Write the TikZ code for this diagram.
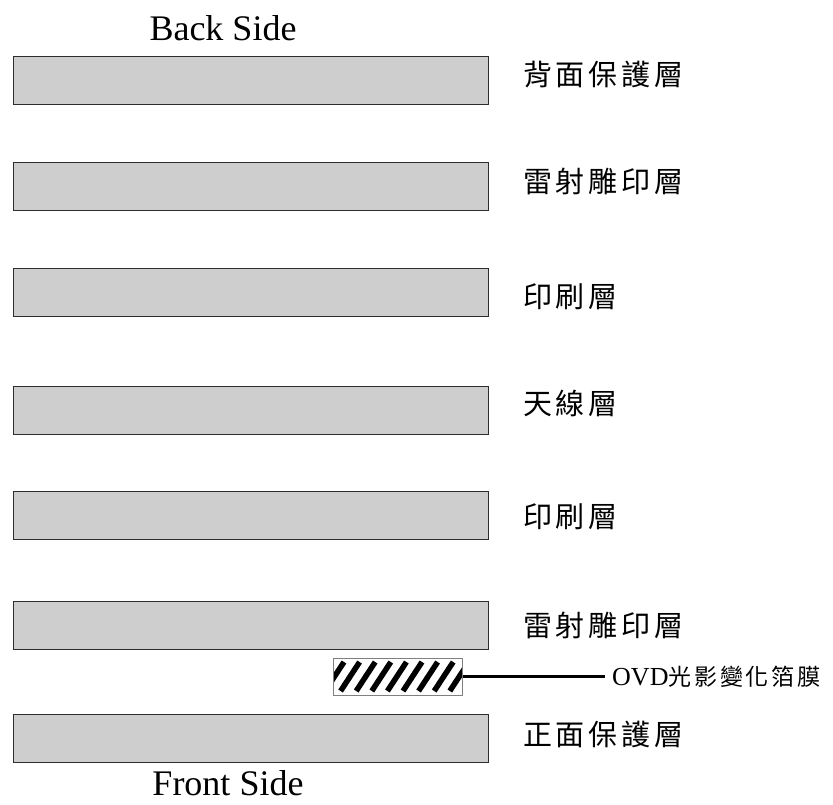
\documentclass[tikz,border=0pt]{standalone}
\usepackage{fontspec}
\setmainfont{Liberation Serif}
\newfontfamily\cjklab[LetterSpace=13]{Noto Sans CJK TC}
\newfontfamily\cjkovd[LetterSpace=12]{Noto Sans CJK TC}
\usetikzlibrary{calc}
\definecolor{layergray}{RGB}{207,206,207}
\definecolor{edgegray}{RGB}{45,45,45}
\begin{document}
\begin{tikzpicture}[x=1pt,y=-1pt,
  layer/.style={draw=edgegray, fill=layergray, line width=1.3pt, minimum width=475pt, minimum height=48pt, inner sep=0pt, anchor=north west},
  lab/.style={anchor=west, inner sep=0pt, font=\cjklab\fontsize{29}{34}\selectfont},
  side/.style={anchor=base, inner sep=0pt, font=\fontsize{36}{40}\selectfont},
  foil/.style={draw=gray, line width=1pt, minimum width=129pt, minimum height=37pt, inner sep=0pt,
    path picture={
      \foreach \k in {0,...,9} {
        \draw[draw=black, line width=5.5pt] ($(path picture bounding box.south west)+(\k*15.6-8,-4)$) -- ++(19,-29);
      }
    }},
  leader/.style={line width=3pt}]
\useasboundingbox (0,0) rectangle (833,804);

\node[side] (back) at (223,40) {Back Side};
\node[side] (front) at (228,795) {Front Side};

\node[layer] (r1) at (13,56) {};
\node[layer] (r2) at (13,162) {};
\node[layer] (r3) at (13,268) {};
\node[layer] (r4) at (13,386) {};
\node[layer] (r5) at (13,491) {};
\node[layer] (r6) at (13,601) {};
\node[layer] (r7) at (13,714) {};

\node[lab] (l1) at (523,75) {背面保護層};
\node[lab] (l2) at (523,182) {雷射雕印層};
\node[lab] (l3) at (523,297) {印刷層};
\node[lab] (l4) at (523,403) {天線層};
\node[lab] (l5) at (523,517) {印刷層};
\node[lab] (l6) at (523,625) {雷射雕印層};
\node[lab] (l7) at (523,734) {正面保護層};

\node[foil] (ovd) at (397.5,676.5) {};
\node[anchor=base west, inner sep=0pt, font=\fontsize{26}{30}\selectfont] (ovdlab) at (612,685) {OVD{\cjkovd\fontsize{23}{28}\selectfont 光影變化箔膜}};
\draw[leader, shorten >=7pt] (ovd.east) -- (ovd.east -| ovdlab.west);
\end{tikzpicture}
\end{document}
